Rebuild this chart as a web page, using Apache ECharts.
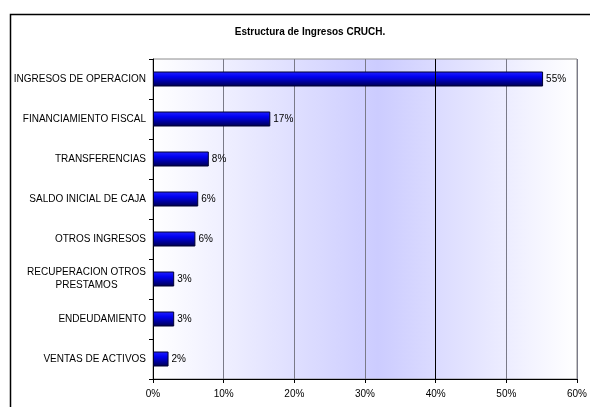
<!DOCTYPE html>
<html>
<head>
<meta charset="utf-8">
<script src="https://cdn.jsdelivr.net/npm/echarts@6/dist/echarts.min.js"></script>
<style>
html,body{margin:0;padding:0;background:#fff;}
#chart{width:590px;height:407px;}
</style>
</head>
<body>
<div id="chart"></div>
<script>
var categories = [
  'INGRESOS DE OPERACION',
  'FINANCIAMIENTO FISCAL',
  'TRANSFERENCIAS',
  'SALDO INICIAL DE CAJA',
  'OTROS INGRESOS',
  'RECUPERACION OTROS\nPRESTAMOS',
  'ENDEUDAMIENTO',
  'VENTAS DE ACTIVOS'
];
var values = [55.2, 16.6, 7.9, 6.4, 6.0, 3.0, 3.0, 2.2];
var xTicks = [0, 10, 20, 30, 40, 50, 60];
var titleText = 'Estructura de Ingresos CRUCH.';

var chart = echarts.init(document.getElementById('chart'), null, {renderer: 'canvas'});
var FONT = '"Liberation Sans", Arial, sans-serif';
chart.setOption({
  animation: false,
  backgroundColor: '#ffffff',
  title: {
    text: titleText,
    left: 305, textAlign: 'center', top: 22,
    textStyle: {fontFamily: FONT, fontSize: 10, fontWeight: 'bold', color: '#000'}
  },
  graphic: [{
    type: 'rect', left: 8, top: 12, z: -1,
    shape: {width: 620, height: 440},
    style: {fill: 'none', stroke: '#000', lineWidth: 1.5}
  }],
  grid: {
    left: 153, right: 9, top: 59, bottom: 28,
    show: true,
    borderColor: '#8c8c8c', borderWidth: 1,
    backgroundColor: {
      type: 'linear', x: 0, y: 0, x2: 1, y2: 0,
      colorStops: [
        {offset: 0, color: '#ffffff'},
        {offset: 0.53, color: '#ccccff'},
        {offset: 1, color: '#ffffff'}
      ]
    }
  },
  xAxis: {
    type: 'value', min: xTicks[0], max: xTicks[xTicks.length - 1], interval: 10,
    axisLine: {show: true, lineStyle: {color: '#000', width: 1}},
    axisTick: {show: true, length: 4, lineStyle: {color: '#000'}},
    axisLabel: {fontFamily: FONT, fontSize: 10, color: '#000', margin: 10,
      formatter: function (v) { return v + '%'; }},
    splitLine: {show: true, lineStyle: {color: '#7a7a88', width: 1}}
  },
  yAxis: {
    type: 'category', data: categories, inverse: true,
    axisLine: {show: true, lineStyle: {color: '#000', width: 1}},
    axisTick: {show: true, length: 4, lineStyle: {color: '#000'}},
    axisLabel: {
      fontFamily: FONT, fontSize: 10, color: '#000', margin: 7, lineHeight: 13,
      formatter: function (v) {
        return v.split('\n').map(function (s) { return '{c|' + s + '}'; }).join('\n');
      },
      rich: {c: {align: 'center', fontFamily: FONT, fontSize: 10, color: '#000', lineHeight: 13}}
    },
    splitLine: {show: false}
  },
  series: [{
    type: 'bar',
    data: values,
    barWidth: 15,
    itemStyle: {
      color: {
        type: 'linear', x: 0, y: 0, x2: 0, y2: 1,
        colorStops: [
          {offset: 0, color: '#2222ff'},
          {offset: 0.35, color: '#0000f0'},
          {offset: 1, color: '#00004a'}
        ]
      },
      borderColor: '#000030', borderWidth: 1
    },
    label: {
      show: true, position: 'right', distance: 3,
      fontFamily: FONT, fontSize: 10, color: '#000',
      formatter: function (p) { return Math.round(p.value) + '%'; }
    },
    markLine: {
      silent: true, symbol: 'none', label: {show: false},
      lineStyle: {color: '#000', width: 1, type: 'solid'},
      data: [{xAxis: 40}]
    }
  }]
});
</script>
</body>
</html>
